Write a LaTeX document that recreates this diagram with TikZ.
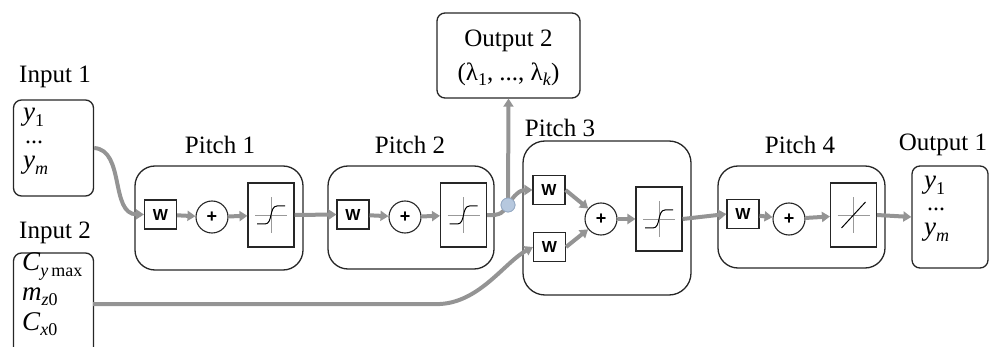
\documentclass[tikz,border=0pt]{standalone}
\usepackage{fontspec}
\setmainfont{Liberation Serif}
\newfontfamily\wfont{Liberation Sans}
\usetikzlibrary{arrows.meta}
\newcommand\sbs[1]{\raisebox{-0.45ex}{\fontsize{18}{18}\selectfont #1}}
\newcommand\itx[1]{\textit{#1}}
\definecolor{jfill}{RGB}{182,200,222}
\definecolor{jdraw}{RGB}{150,170,195}
\tikzset{
  lbl/.style={font=\fontsize{25}{27}\selectfont, inner sep=0pt},
  vtxt/.style={font=\fontsize{27}{29}\selectfont, inner sep=0pt, anchor=west, text height=11pt, text depth=3pt},
  dtxt/.style={font=\fontsize{24}{26}\selectfont, inner sep=0pt, anchor=west, text height=3pt, text depth=0pt},
  iobox/.style={draw=black!85, line width=1.3pt, rounded corners=8pt, inner sep=0pt},
  pitchbox/.style={draw=black!85, line width=1.3pt, rounded corners=20pt, inner sep=0pt},
  wbox/.style={draw=black!85, line width=1.1pt, minimum width=32pt, minimum height=29pt, inner sep=0pt, font=\wfont\bfseries\fontsize{16}{16}\selectfont},
  plusnode/.style={draw=black!85, line width=1.1pt, circle, minimum size=32pt, inner sep=0pt, font=\wfont\bfseries\fontsize{18}{18}\selectfont},
  actbox/.style={draw=black!85, line width=1.1pt, minimum width=46pt, minimum height=64pt, inner sep=0pt},
  conn/.style={draw=black!42, line width=4pt, -{Triangle[length=8pt,width=10pt]}},
  plainconn/.style={draw=black!42, line width=4pt},
  jnode/.style={circle, fill=jfill, draw=jdraw, line width=0.8pt, minimum size=14pt, inner sep=0pt},
}
\newcommand\sigmo[1]{%
  \draw[black!40, line width=0.9pt] ([xshift=-16pt]#1.center) -- ([xshift=16pt]#1.center);
  \draw[black!40, line width=0.9pt] ([yshift=-18pt]#1.center) -- ([yshift=18pt]#1.center);
  \draw[black, line width=1pt] ([xshift=-14pt,yshift=-9pt]#1.center) -- ([xshift=-6pt,yshift=-9pt]#1.center)
     .. controls ([xshift=2pt,yshift=-9pt]#1.center) and ([xshift=-2pt,yshift=9pt]#1.center) ..
     ([xshift=6pt,yshift=9pt]#1.center) -- ([xshift=14pt,yshift=9pt]#1.center);}
\begin{document}
\begin{tikzpicture}[x=1pt,y=-1pt]
\useasboundingbox (0,0) rectangle (990,347);
% inputs
\node[lbl] (in1lbl) at (55,77) {Input 1};
\node[iobox, minimum width=80pt, minimum height=96pt] (in1) at (53.5,148) {};
\node[vtxt] (in1a) at (23,117) {\itx{y}\sbs{1}};
\node[dtxt] (in1b) at (25,142) {...};
\node[vtxt] (in1c) at (23,165) {\itx{y}\sbs{\itx{m}}};
\node[lbl] (in2lbl) at (55,233) {Input 2};
\node[iobox, minimum width=80pt, minimum height=102pt] (in2) at (53.5,304) {};
\node[vtxt] (in2a) at (22,267) {\itx{C}\sbs{\itx{y}\,max}};
\node[vtxt] (in2b) at (22,296) {\itx{m}\sbs{\itx{z}0}};
\node[vtxt] (in2c) at (22,326) {\itx{C}\sbs{\itx{x}0}};
% pitch 1
\node[lbl] (p1lbl) at (220,145) {Pitch 1};
\node[pitchbox, minimum width=168pt, minimum height=104pt] (p1) at (219,218) {};
\node[wbox] (p1w) at (160.5,214.5) {W};
\node[plusnode] (p1p) at (212,217) {+};
\node[actbox] (p1a) at (271,215) {};
\sigmo{p1a}
% pitch 2
\node[lbl] (p2lbl) at (410,145) {Pitch 2};
\node[pitchbox, minimum width=166pt, minimum height=103pt] (p2) at (411,217.5) {};
\node[wbox] (p2w) at (353,214.5) {W};
\node[plusnode] (p2p) at (405,217) {+};
\node[actbox] (p2a) at (463.5,215) {};
\sigmo{p2a}
% pitch 3
\node[lbl] (p3lbl) at (560,128) {Pitch 3};
\node[pitchbox, rounded corners=22pt, minimum width=168pt, minimum height=154pt] (p3) at (607,218) {};
\node[wbox] (p3w1) at (549,190) {W};
\node[wbox] (p3w2) at (549.5,247) {W};
\node[plusnode] (p3p) at (601,219) {+};
\node[actbox] (p3a) at (659,219) {};
\sigmo{p3a}
% pitch 4
\node[lbl] (p4lbl) at (800,145) {Pitch 4};
\node[pitchbox, minimum width=167pt, minimum height=102pt] (p4) at (801.5,217) {};
\node[wbox] (p4w) at (743,214) {W};
\node[plusnode] (p4p) at (789,219) {+};
\node[actbox] (p4a) at (853.5,215) {};
\draw[black!40, line width=0.9pt] ([xshift=-16pt]p4a.center) -- ([xshift=16pt]p4a.center);
\draw[black!40, line width=0.9pt] ([yshift=-18pt]p4a.center) -- ([yshift=18pt]p4a.center);
\draw[black, line width=1pt] ([xshift=-12pt,yshift=-13pt]p4a.center) -- ([xshift=12pt,yshift=13pt]p4a.center);
% outputs
\node[lbl] (o1lbl) at (943,145) {Output 1};
\node[iobox, minimum width=76pt, minimum height=102pt] (o1) at (950,217) {};
\node[vtxt] (o1a) at (924,185) {\itx{y}\sbs{1}};
\node[dtxt] (o1b) at (927,209) {...};
\node[vtxt] (o1c) at (924,232) {\itx{y}\sbs{\itx{m}}};
\node[iobox, minimum width=143pt, minimum height=85pt] (o2) at (508.5,55.5) {};
\node[lbl] (o2a) at (508.5,41) {Output 2};
\node[lbl] (o2b) at (508.5,74) {(λ\sbs{1}, ..., λ\sbs{\itx{k}})};
% junction
\node[jnode] (j) at (508,205) {};
\coordinate (i2o) at (93,304);
% connectors
\draw[conn] (in1.east) .. controls (125,150) and (110,214) .. (p1w.west);
\draw[conn] (p1w) -- (p1p);
\draw[conn] (p1p) -- (p1a);
\draw[conn] (p1a.east) -- (p2w.west);
\draw[conn] (p2w) -- (p2p);
\draw[conn] (p2p) -- (p2a);
\draw[plainconn] (p2a.east) .. controls (500,216) and (504,212) .. (j.center);
\draw[conn] (j.center) .. controls (514,195) and (520,190) .. (p3w1.west);
\draw[conn] (j.center) -- (o2.south);
\draw[conn] (i2o) -- (440,304) .. controls (480,302) and (505,262) .. (p3w2.west);
\draw[conn] (p3w1.east) -- (p3p);
\draw[conn] (p3w2.east) -- (p3p);
\draw[conn] (p3p) -- (p3a);
\draw[conn] (p3a.east) -- (p4w.west);
\draw[conn] (p4w) -- (p4p);
\draw[conn] (p4p) -- (p4a);
\draw[conn] (p4a.east) -- (o1.west);
\node[jnode] (j2) at (j) {};
\end{tikzpicture}
\end{document}
